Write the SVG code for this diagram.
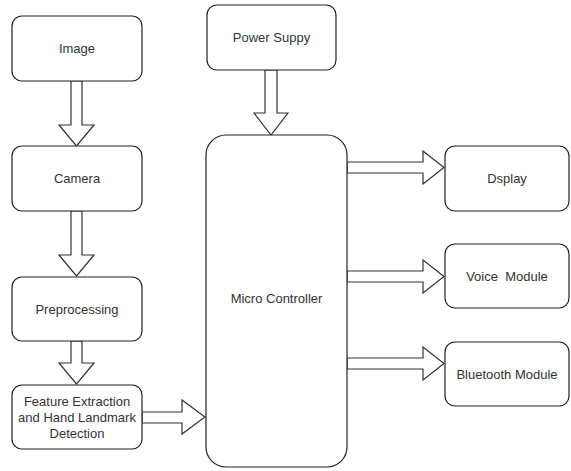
<svg xmlns="http://www.w3.org/2000/svg" width="571" height="471" viewBox="0 0 571 471">
<style>
.box{fill:#fff;stroke:#222;stroke-width:1.2}
.arr{fill:#fff;stroke:#333;stroke-width:1.2;stroke-linejoin:miter}
text{font-family:"Liberation Sans",Arial,sans-serif;font-size:13px;fill:#333;text-anchor:middle;dominant-baseline:central}
</style>
<rect width="571" height="471" fill="#fff"/>
<g id="connectors">
<polygon class="arr" points="71,81 82,81 82,125 94,125 76.5,146 59,125 71,125"/>
<polygon class="arr" points="71,211 82,211 82,255 94,255 76.5,276 59,255 71,255"/>
<polygon class="arr" points="71,341 82,341 82,363 94,363 76.5,384 59,363 71,363"/>
<polygon class="arr" points="142,412 182,412 182,400 205,417 182,434 182,423 142,423"/>
<polygon class="arr" points="265,70 277,70 277,113 288,113 271,135 254,113 265,113"/>
<polygon class="arr" points="347,162 423,162 423,151 444,167.5 423,184 423,173 347,173"/>
<polygon class="arr" points="347,271 423,271 423,260 444,276.5 423,293 423,282 347,282"/>
<polygon class="arr" points="347,358 423,358 423,347 444,363.5 423,380 423,369 347,369"/>
</g>
<g id="image"><rect class="box" x="12" y="16" width="130" height="65" rx="10"/><text x="77" y="48.5">Image</text></g>
<g id="camera"><rect class="box" x="12" y="146" width="130" height="65" rx="10"/><text x="77" y="178.5">Camera</text></g>
<g id="preprocessing"><rect class="box" x="12" y="277" width="130" height="64" rx="10"/><text x="77" y="309">Preprocessing</text></g>
<g id="feature"><rect class="box" x="12" y="385" width="130" height="64" rx="10"/><text x="77" y="401">Feature Extraction</text><text x="77" y="417">and Hand Landmark</text><text x="77" y="433">Detection</text></g>
<g id="power"><rect class="box" x="207" y="5" width="129" height="65" rx="10"/><text x="271.5" y="37.5">Power Suppy</text></g>
<g id="micro"><rect class="box" x="206" y="135" width="141" height="332" rx="20"/><text x="276.5" y="298">Micro Controller</text></g>
<g id="display"><rect class="box" x="445" y="146" width="124" height="65" rx="10"/><text x="507" y="178.5">Dsplay</text></g>
<g id="voice"><rect class="box" x="445" y="244" width="124" height="64" rx="10"/><text x="507" y="276" xml:space="preserve">Voice  Module</text></g>
<g id="bluetooth"><rect class="box" x="445" y="342" width="124" height="64" rx="10"/><text x="507" y="374">Bluetooth Module</text></g>
</svg>
